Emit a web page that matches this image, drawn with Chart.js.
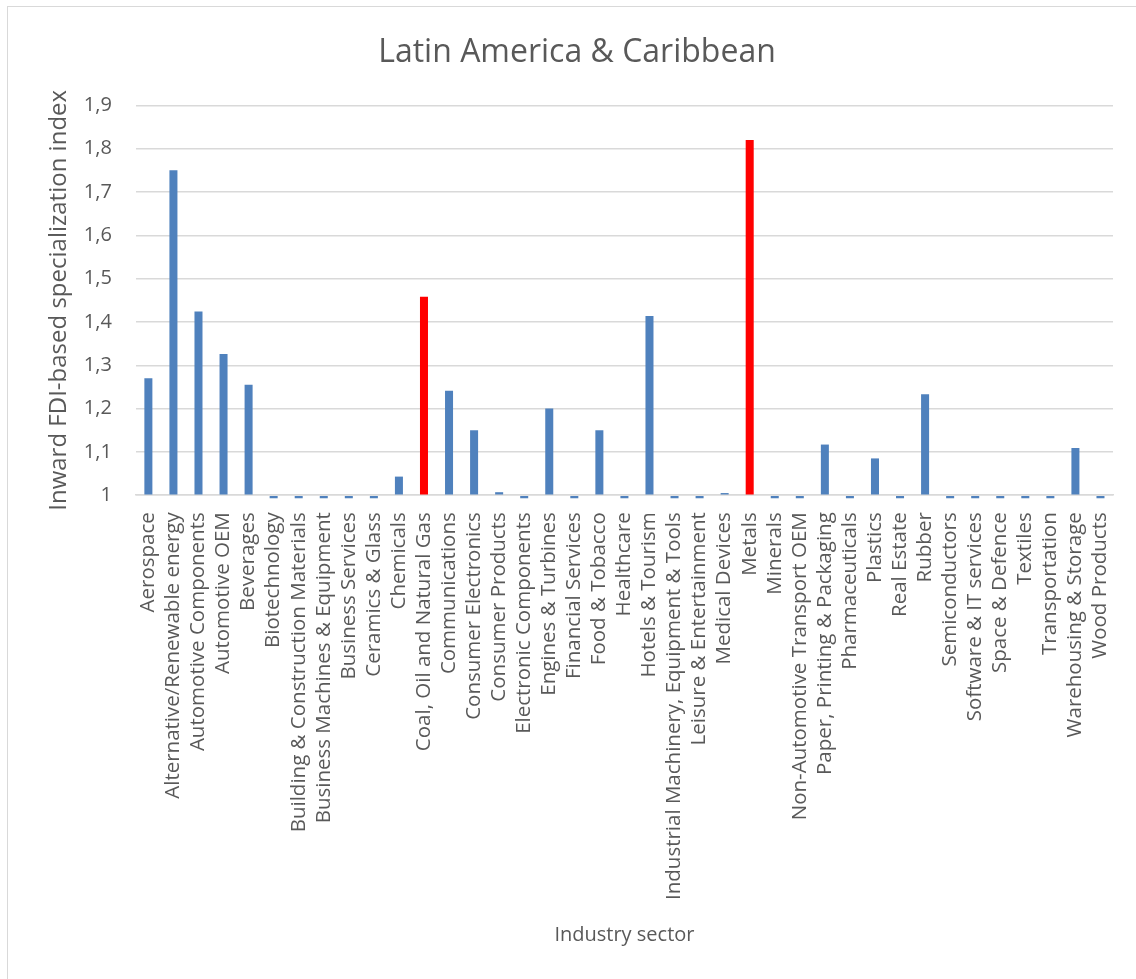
<!DOCTYPE html>
<html lang="en">
<head>
    <meta charset="UTF-8">
    <title>Latin America & Caribbean</title>
    <script src="https://cdn.jsdelivr.net/npm/chart.js"></script>
    <style>
        body { margin: 0; background: #ffffff; overflow: hidden; }
        .frame {
            position: absolute; left: 7px; top: 6px;
            width: 1200px; height: 1000px;
            border: 1.5px solid #d9d9d9;
        }
        #sectorChart { position: absolute; left: 0; top: 0; }
    </style>
</head>
<body>
    <div class="frame"></div>
    <canvas id="sectorChart" width="1136" height="979"></canvas>

    <script>
        const sectors = [
            "Aerospace", "Alternative/Renewable energy", "Automotive Components", "Automotive OEM",
            "Beverages", "Biotechnology", "Building & Construction Materials", "Business Machines & Equipment",
            "Business Services", "Ceramics & Glass", "Chemicals", "Coal, Oil and Natural Gas",
            "Communications", "Consumer Electronics", "Consumer Products", "Electronic Components",
            "Engines & Turbines", "Financial Services", "Food & Tobacco", "Healthcare",
            "Hotels & Tourism", "Industrial Machinery, Equipment & Tools", "Leisure & Entertainment", "Medical Devices",
            "Metals", "Minerals", "Non-Automotive Transport OEM", "Paper, Printing & Packaging",
            "Pharmaceuticals", "Plastics", "Real Estate", "Rubber",
            "Semiconductors", "Software & IT services", "Space & Defence", "Textiles",
            "Transportation", "Warehousing & Storage", "Wood Products"
        ];

        // index values; sectors just under 1 show as short stubs below the axis
        const specializationIndex = [
            1.27, 1.75, 1.424, 1.326,
            1.255, 0.993, 0.993, 0.993,
            0.993, 0.993, 1.043, 1.458,
            1.241, 1.15, 1.007, 0.993,
            1.2, 0.993, 1.15, 0.993,
            1.414, 0.993, 0.993, 1.005,
            1.82, 0.993, 0.993, 1.117,
            0.993, 1.085, 0.993, 1.233,
            0.993, 0.993, 0.993, 0.993,
            0.993, 1.109, 0.993
        ];

        const highlighted = ["Coal, Oil and Natural Gas", "Metals"];

        const yTicks = [1, 1.1, 1.2, 1.3, 1.4, 1.5, 1.6, 1.7, 1.8, 1.9];

        const textColor = "#595959";
        const gridColor = "#d9d9d9";
        const fontFamily = "'Open Sans', 'Noto Sans', sans-serif";

        const barColors = sectors.map(s => highlighted.includes(s) ? "#ff0000" : "#4f81bd");

        new Chart(document.getElementById("sectorChart"), {
            type: "bar",
            data: {
                labels: sectors,
                datasets: [{
                    data: specializationIndex,
                    base: 1,
                    backgroundColor: barColors,
                    borderWidth: 0,
                    categoryPercentage: 1,
                    barPercentage: 0.32,
                    clip: false
                }]
            },
            options: {
                responsive: false,
                animation: false,
                layout: { padding: { left: 41, right: 23, top: 0, bottom: 6 } },
                plugins: {
                    legend: { display: false },
                    tooltip: { enabled: false },
                    title: {
                        display: true,
                        text: "Latin America & Caribbean",
                        color: textColor,
                        font: { family: fontFamily, size: 32, weight: "normal" },
                        padding: { top: 34, bottom: 33 }
                    }
                },
                scales: {
                    x: {
                        grid: { display: false },
                        border: { display: true, color: gridColor, width: 1.5 },
                        ticks: {
                            autoSkip: false,
                            maxRotation: 90,
                            minRotation: 90,
                            padding: 9,
                            color: textColor,
                            font: { family: fontFamily, size: 20.5 }
                        },
                        title: {
                            display: true,
                            text: "Industry sector",
                            color: textColor,
                            font: { family: fontFamily, size: 20 },
                            padding: { top: 14, bottom: 26 }
                        }
                    },
                    y: {
                        min: 1,
                        max: 1.9,
                        afterBuildTicks: axis => {
                            axis.ticks = yTicks.map(v => ({ value: v }));
                        },
                        grid: { color: gridColor, lineWidth: 1.5, drawTicks: false },
                        border: { display: false },
                        ticks: {
                            padding: 24,
                            color: textColor,
                            font: { family: fontFamily, size: 20 },
                            callback: v => String(Math.round(v * 10) / 10).replace(".", ",")
                        },
                        title: {
                            display: true,
                            text: "Inward FDI-based specialization index",
                            color: textColor,
                            font: { family: fontFamily, size: 24 },
                            padding: { top: 4, bottom: -14 }
                        }
                    }
                }
            }
        });
    </script>
</body>
</html>
